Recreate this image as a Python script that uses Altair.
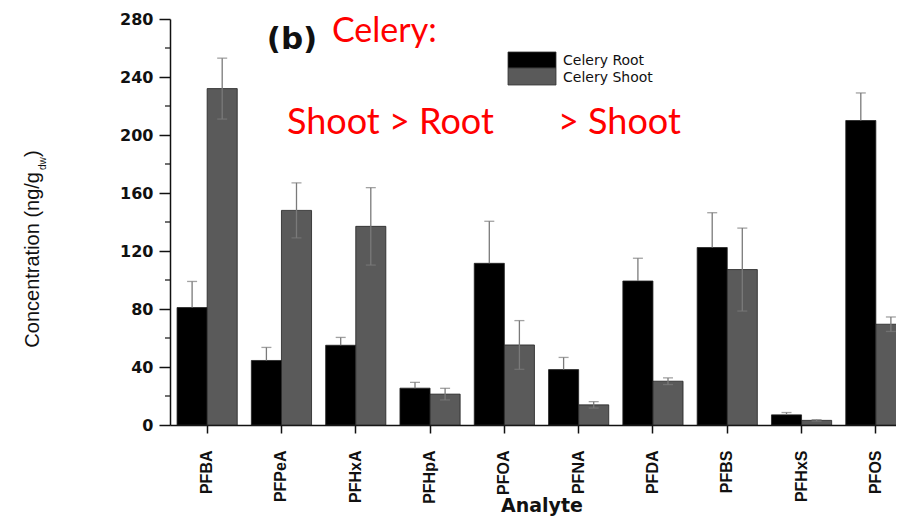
import altair as alt
import pandas as pd

# ---- data ----
analytes = ["PFBA", "PFPeA", "PFHxA", "PFHpA", "PFOA", "PFNA", "PFDA", "PFBS", "PFHxS", "PFOS"]
series = ["Celery Root", "Celery Shoot"]
root_values = [81, 44.5, 55, 25.4, 111.5, 38.2, 99.3, 122.4, 7, 210]
root_errors = [18, 9, 5.4, 4, 29, 8.4, 15.7, 24, 1.6, 19]
shoot_values = [232, 148, 137, 21.3, 55.2, 13.9, 30.2, 107.2, 3.2, 69.5]
shoot_errors = [21, 19, 26.7, 4, 16.8, 2.2, 2.3, 28.6, 0.5, 5]
y_ticks = [0, 40, 80, 120, 160, 200, 240, 280]
y_minor = [20, 60, 100, 140, 180, 220, 260]

rows = []
for a, rv, re, sv, se in zip(analytes, root_values, root_errors, shoot_values, shoot_errors):
    rows.append({"analyte": a, "series": series[0], "value": rv, "lo": rv, "hi": rv + re})
    rows.append({"analyte": a, "series": series[1], "value": sv, "lo": sv - se, "hi": sv + se})
df = pd.DataFrame(rows)

PLOT_H = 406
PLOT_W = 726

x_axis = alt.Axis(
    title="Analyte", labelAngle=-90, labelFont="Liberation Sans", labelFontWeight="bold",
    labelFontSize=16, labelColor="#111", labelPadding=17, labelOverlap=False,
    tickSize=8, tickColor="#111", tickWidth=1.5, domainColor="#111", domainWidth=1.5,
    titleFont="DejaVu Sans", titleFontWeight="bold", titleFontSize=19, titleColor="#111",
    titleBaseline="alphabetic", titleY=86,
)
y_axis = alt.Axis(
    title=None, values=y_ticks, labelFont="DejaVu Sans", labelFontWeight="bold",
    labelFontSize=16, labelColor="#111", labelPadding=6, tickSize=11, tickColor="#111",
    tickWidth=1.5, domainColor="#111", domainWidth=1.5, grid=False,
)
x_scale = alt.Scale(range=[0, 743], paddingInner=0.19, paddingOuter=0.095)
y_scale = alt.Scale(domain=[0, 280], nice=False, zero=True)


def xe():
    return alt.X("analyte:N", sort=analytes, scale=x_scale, axis=x_axis)


def ye(field):
    return alt.Y(field, scale=y_scale, axis=y_axis)


xoff = alt.XOffset("series:N", sort=series, scale=alt.Scale(domain=series, paddingInner=0, paddingOuter=0))
color = alt.Color("series:N", scale=alt.Scale(domain=series, range=["#000000", "#5a5a5a"]), legend=None)

base = alt.Chart(df)

bars = base.mark_bar(stroke="#222", strokeWidth=0.8).encode(
    x=xe(), xOffset=xoff, y=ye("value:Q"), color=color,
)
err_rule = base.mark_rule(color="#7a7a7a", strokeWidth=1.3).encode(
    x=xe(), xOffset=xoff, y=ye("lo:Q"), y2="hi:Q",
)
cap_hi = base.mark_tick(color="#7a7a7a", size=10, thickness=1.3).encode(
    x=xe(), xOffset=xoff, y=ye("hi:Q"),
)
cap_lo = base.transform_filter(alt.datum.series == series[1]).mark_tick(
    color="#7a7a7a", size=10, thickness=1.3
).encode(
    x=xe(), xOffset=xoff, y=ye("lo:Q"),
)

minor = alt.Chart(pd.DataFrame({"m": y_minor})).mark_rule(color="#111", strokeWidth=1.2).encode(
    x=alt.value(-5), x2=alt.value(0), y=ye("m:Q")
)


def txt(s, x, y, size, font, color="#111", weight="normal", align="left", baseline="alphabetic", angle=0):
    props = dict(fontSize=size, font=font, color=color, fontWeight=weight, align=align, baseline=baseline)
    if angle:
        props["angle"] = angle
    return alt.Chart(pd.DataFrame({"t": [s]})).mark_text(**props).encode(
        text="t:N", x=alt.value(x), y=alt.value(y)
    )


# y axis title with subscript
ytitle = [
    txt("Concentration (ng/g", -131, 153, 20, "Liberation Sans", align="right", angle=270),
    txt("dw", -124, 151, 10, "Liberation Sans", align="left", angle=270),
    txt(")", -131, 138, 20, "Liberation Sans", align="left", angle=270),
]

# annotations
annots = [
    txt("(b)", 122, 21, 31, "DejaVu Sans", weight="bold", align="center", baseline="middle"),
    txt("Celery:", 162, 23, 34, "Lato", color="#ff0000"),
    txt("Shoot > Root", 117, 115, 36, "Lato", color="#ff0000"),
    txt("> Shoot", 388, 115, 36, "Lato", color="#ff0000"),
]


# legend
def lrect(y1, y2, fill):
    return alt.Chart(pd.DataFrame({"t": [0]})).mark_rect(fill=fill, stroke="#333", strokeWidth=0.8).encode(
        x=alt.value(338), x2=alt.value(386), y=alt.value(y1), y2=alt.value(y2)
    )


legend = [
    lrect(33, 49, "#000000"),
    lrect(49, 66, "#5a5a5a"),
    txt(series[0], 393, 42, 14, "DejaVu Sans", baseline="middle"),
    txt(series[1], 393, 59, 14, "DejaVu Sans", baseline="middle"),
]

chart = alt.layer(bars, err_rule, cap_hi, cap_lo, minor, *ytitle, *annots, *legend).properties(
    width=PLOT_W, height=PLOT_H,
    autosize="none",
    padding={"left": 162, "top": 11, "right": 0, "bottom": 91},
).configure_view(stroke=None)

chart.save("out.html", embed_options={"renderer": "svg", "actions": False})
